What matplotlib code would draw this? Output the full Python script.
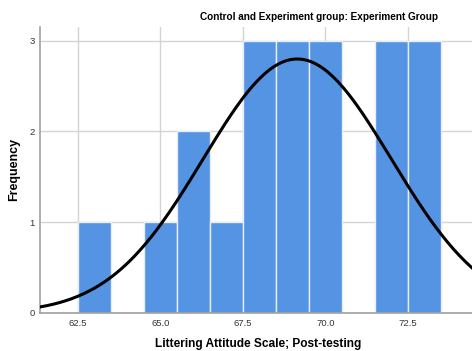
import numpy as np
import matplotlib.pyplot as plt

plt.rcParams['font.family'] = ['Liberation Sans', 'DejaVu Sans']

# histogram bins (bin centres) and counts
bin_centers = [63, 64, 65, 66, 67, 68, 69, 70, 71, 72, 73]
counts = [1, 0, 1, 2, 1, 3, 3, 3, 0, 3, 3]
bin_width = 1.0

x_ticks = [62.5, 65.0, 67.5, 70.0, 72.5]
y_ticks = [0, 1, 2, 3]

title = "Control and Experiment group: Experiment Group"
x_label = "Littering Attitude Scale; Post-testing"
y_label = "Frequency"

bar_color = "#5593E3"
grid_color = "#D4D4D4"

fig = plt.figure(figsize=(4.72, 3.51), dpi=100)
ax = fig.add_axes([40 / 472, 1 - 313 / 351, 1 - 40 / 472, (313 - 27) / 351])

ax.bar(bin_centers, counts, width=bin_width, color=bar_color,
       edgecolor="#E8EEF8", linewidth=1.0, zorder=2)

# normal curve fitted to the data
values = np.repeat(bin_centers, counts)
mean = values.mean()
sd = values.std(ddof=1)
xs = np.linspace(61.35, 74.45, 300)
ys = len(values) * bin_width / (sd * np.sqrt(2 * np.pi)) * np.exp(-0.5 * ((xs - mean) / sd) ** 2)
ax.plot(xs, ys, color="black", linewidth=2.2, zorder=3)

ax.set_xlim(61.35, 74.45)
ax.set_ylim(0, 3.15)
ax.set_xticks(x_ticks)
ax.set_xticklabels([f"{t:.1f}" for t in x_ticks], fontsize=6.8, color="#333333")
ax.set_yticks(y_ticks)
ax.set_yticklabels([str(t) for t in y_ticks], fontsize=6.8, color="#333333")
ax.tick_params(axis="x", length=0, pad=4)
ax.tick_params(axis="y", length=0, pad=4)
ax.grid(True, color=grid_color, linewidth=1.0, zorder=0)
ax.set_axisbelow(True)

for side in ["top", "right"]:
    ax.spines[side].set_visible(False)
for side in ["left", "bottom"]:
    ax.spines[side].set_color("#A0A0A0")
    ax.spines[side].set_linewidth(1.2)

fig.text(319 / 472, 1 - 17 / 351, title, fontsize=7.2, fontweight="bold",
         ha="center", va="center")
fig.text(258 / 472, 1 - 344 / 351, x_label, fontsize=8.6, fontweight="bold",
         ha="center", va="center")
fig.text(14 / 472, 1 - 169 / 351, y_label, fontsize=9, fontweight="bold",
         ha="center", va="center", rotation=90)

fig.savefig("out.png", dpi=100)
